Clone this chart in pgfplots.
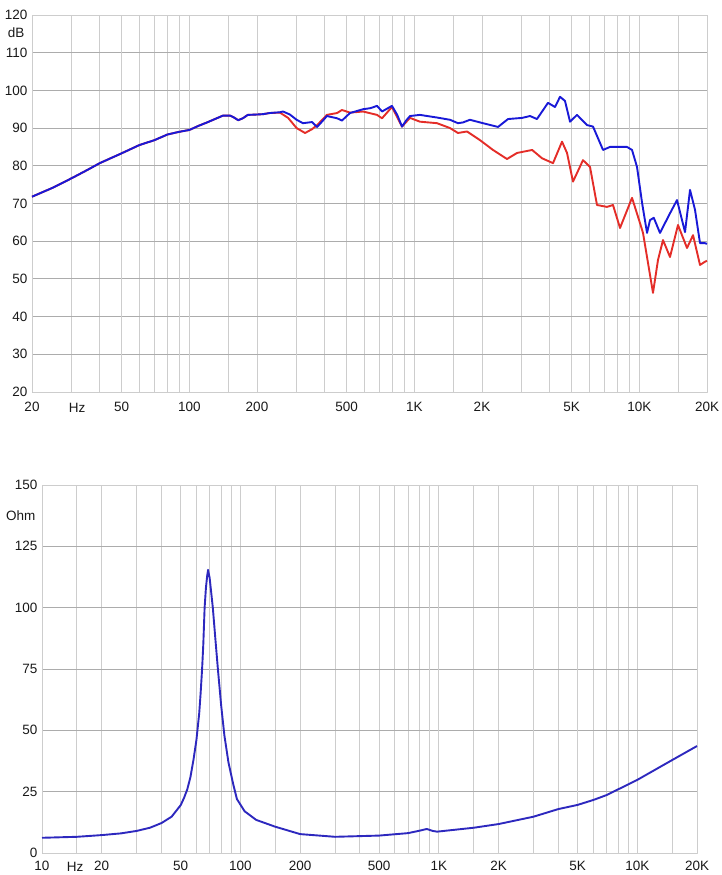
\documentclass[border=0pt]{standalone}
\usepackage{fontspec}
\setmainfont{Liberation Sans}
\usepackage{pgfplots}
\pgfplotsset{compat=1.18}
\definecolor{spblue}{RGB}{25,25,215}
\definecolor{spred}{RGB}{228,45,40}
\definecolor{zblue}{RGB}{45,40,190}
\definecolor{gridlight}{RGB}{205,205,205}
\definecolor{griddark}{RGB}{150,150,150}
\definecolor{gridh}{RGB}{172,172,172}
\definecolor{labc}{RGB}{25,25,25}
\pgfplotsset{
  chartstyle/.style={
    scale only axis, clip=false,
    axis line style={draw=gridlight, line width=0.8pt},
    tick style={draw=none}, major tick length=0pt, minor tick length=0pt,
    grid=both,
    major x grid style={draw=gridlight, line width=0.9pt},
    minor x grid style={draw=gridlight, line width=0.9pt},
    major y grid style={draw=gridh, line width=0.9pt},
    /pgf/number format/assume math mode=true,
    tick label style={font=\fontsize{13.5}{15}\selectfont, text=labc},
    yticklabel style={xshift=-1pt},
    extra x tick style={grid style={draw=griddark, line width=1pt}},
    extra x tick labels={},
  }
}
\begin{document}
\begin{tikzpicture}[line join=round]
\useasboundingbox (0,0) rectangle (721pt,875pt);
% ---------------- top: SPL ----------------
\begin{axis}[xmode=log, log basis x=10, chartstyle,
  at={(32pt,483pt)}, anchor=south west, width=675pt, height=377pt,
  xmin=20, xmax=20000, ymin=20, ymax=120,
  xticklabel style={yshift=-7pt},
  ytick={20,30,...,120},
  xtick={20,50,100,200,500,1000,2000,5000,10000,20000},
  xticklabels={20,50,100,200,500,1K,2K,5K,10K,20K},
  minor xtick={30,40,60,70,80,90,150,300,400,600,700,800,900,1500,3000,4000,6000,7000,8000,9000,15000},
  extra x ticks={50,90,100,300,800,4000,7000,9000},
]
\addplot[spred, line width=1.9pt] coordinates {
(20,71.8)(25,74.3)(30,76.7)(35,78.8)(40,80.7)(50,83.3)(60,85.5)(70,86.8)(80,88.3)(90,89.0)(100,89.5)(110,90.6)(120,91.5)(130,92.4)(141,93.3)(152,93.3)(158,92.8)(165,92.1)(173,92.6)(182,93.5)(200,93.6)(213,93.7)(228,94.0)(253,94.1)
(275,92.7)(300,90.0)(327,88.7)(351,89.7)(370,90.8)(409,93.5)(454,94.0)(477,94.8)(518,94.1)(592,94.4)(683,93.5)(719,92.6)(796,95.6)(882,90.4)(957,92.7)(1060,91.7)(1262,91.3)(1442,90.0)(1564,88.7)(1716,89.1)(1960,86.8)(2238,84.2)(2583,81.8)(2862,83.4)(3340,84.2)(3696,82.0)(4136,80.7)(4536,86.4)(4774,83.4)(5075,75.8)(5622,81.5)(6040,79.7)(6488,69.6)(7188,69.1)(7642,69.6)(8212,63.5)(9284,71.5)(10074,64.8)(10388,62.2)(10938,54.2)(11508,46.3)(12110,55.0)(12750,60.3)(13696,55.8)(14860,64.3)(16300,58.2)(17335,61.6)(18618,53.7)(19530,54.5)(20000,54.8)
};
\addplot[spblue, line width=1.9pt] coordinates {
(20,71.8)(25,74.3)(30,76.7)(35,78.8)(40,80.7)(50,83.3)(60,85.5)(70,86.8)(80,88.3)(90,89.0)(100,89.5)(110,90.6)(120,91.5)(130,92.4)(141,93.3)(152,93.3)(158,92.8)(165,92.1)(173,92.6)(182,93.5)(200,93.6)(213,93.7)(228,94.0)(253,94.2)
(261,94.4)(280,93.6)(300,92.2)(320,91.3)(351,91.6)(370,90.3)(390,91.8)(409,93.2)(454,92.6)(477,92.0)(518,94.0)(592,95.0)(640,95.3)(683,95.9)(719,94.4)(796,95.9)(840,93.5)(882,90.4)(920,92.0)(957,93.2)(1060,93.5)(1262,92.8)(1442,92.2)(1564,91.3)(1646,91.5)(1768,92.2)(2020,91.3)(2356,90.3)(2610,92.4)(3012,92.7)(3270,93.2)(3510,92.4)(3930,96.7)(4220,95.6)(4444,98.3)(4676,97.2)(4922,91.7)(5288,93.5)(5858,90.8)(6228,90.4)(6900,84.2)(7412,85.0)(8820,85.0)(9284,84.2)(9770,79.7)(10300,70.0)(10826,62.2)(11162,65.6)(11600,66.2)(12360,62.2)(13696,67.4)(14712,70.9)(15970,62.4)(16808,73.6)(17690,68.3)(18618,59.5)(19530,59.5)(20000,59.3)
};
\node[anchor=east, font=\fontsize{13.5}{15}\selectfont, text=labc, xshift=-4pt] at (axis cs:20,115.2) {dB};
\node[anchor=north, font=\fontsize{13.5}{15}\selectfont, text=labc, yshift=-7pt, inner sep=4.5pt] at (axis cs:31.7,20) {Hz};
\end{axis}
% ---------------- bottom: impedance ----------------
\begin{axis}[xmode=log, log basis x=10, chartstyle,
  at={(42pt,22pt)}, anchor=south west, width=655pt, height=368pt,
  xmin=10, xmax=20000, ymin=0, ymax=150,
  xticklabel style={yshift=-5pt},
  ytick={0,25,...,150},
  xtick={10,20,50,100,200,500,1000,2000,5000,10000,20000},
  xticklabels={10,20,50,100,200,500,1K,2K,5K,10K,20K},
  minor xtick={15,30,40,60,70,80,90,150,300,400,600,700,800,900,1500,3000,4000,6000,7000,8000,9000,15000},
  extra x ticks={70,900,1000,3000,5000},
]
\addplot[zblue, line width=1.9pt] coordinates {
(10,6.2)(15,6.6)(20,7.3)(25,8.0)(30,9.0)(35,10.3)(40,12.2)(45,14.8)(50,19.5)(52,22.5)(54,26)(56,31)(58,38)(60,46)(62,57)(63,65)(64.1,75)(65,85)(66,100)(67,108)(68,113)(68.7,115.4)(70,112)(72.6,100)(75,86)(77,75)(80,60)(83,48)(87,37)(92,28)(96,22)(105,17)(120,13.5)(150,10.7)(200,7.7)(300,6.6)(500,7.1)(700,8.1)(800,9.1)(870,9.8)(930,9.0)(980,8.7)(1500,10.3)(2000,11.8)(3000,14.8)(4000,17.9)(5000,19.6)(6000,21.6)(7000,23.6)(10000,29.8)(15000,37.9)(20000,43.6)
};
\node[anchor=east, font=\fontsize{13.5}{15}\selectfont, text=labc, xshift=-3pt] at (axis cs:10,137.5) {Ohm};
\node[anchor=north, font=\fontsize{13.5}{15}\selectfont, text=labc, yshift=-5pt, inner sep=4.5pt] at (axis cs:14.7,0) {Hz};
\end{axis}
\end{tikzpicture}
\end{document}
